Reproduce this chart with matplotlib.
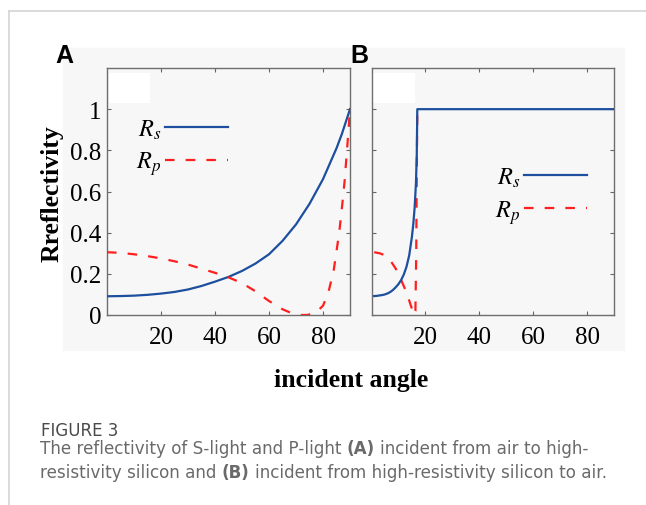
import matplotlib.pyplot as plt
from matplotlib.patches import Rectangle
from matplotlib.lines import Line2D

plt.rcParams['mathtext.fontset'] = 'stix'

# panel A: air -> high-resistivity silicon
angle_a = [0, 5, 10, 15, 20, 25, 30, 35, 40, 45, 50, 55, 60, 65, 70, 75, 80, 83, 85, 87, 88, 89, 90]
rs_a = [0.091, 0.092, 0.094, 0.098, 0.104, 0.112, 0.124, 0.141, 0.162, 0.185, 0.214, 0.25, 0.295,
        0.36, 0.44, 0.54, 0.66, 0.75, 0.81, 0.88, 0.92, 0.96, 1.0]
angle_a_p = [0, 5, 10, 15, 20, 25, 30, 35, 40, 45, 50, 55, 60, 65, 68, 70, 72, 74, 76, 78, 80,
             82, 84, 86, 87, 88, 89, 90]
rp_a = [0.305, 0.302, 0.295, 0.286, 0.275, 0.261, 0.245, 0.225, 0.205, 0.183, 0.155, 0.115, 0.068,
        0.028, 0.011, 0.004, 0.0, 0.0, 0.005, 0.02, 0.045, 0.11, 0.22, 0.40, 0.52, 0.65, 0.82, 1.0]

# panel B: high-resistivity silicon -> air
angle_b = [1, 2, 3, 4, 5, 6, 7, 8, 9, 10, 11, 12, 13, 14, 15, 15.5, 16, 16.5, 16.8, 17,
           30, 50, 70, 90]
rs_b = [0.092, 0.093, 0.095, 0.097, 0.10, 0.105, 0.112, 0.122, 0.135, 0.15, 0.17, 0.197, 0.235,
        0.29, 0.38, 0.44, 0.52, 0.64, 0.78, 1.0, 1.0, 1.0, 1.0, 1.0]
angle_b_p = [1, 3, 5, 7, 9, 11, 13, 14, 15, 15.6, 16.3, 16.6, 16.8, 17]
rp_b = [0.305, 0.30, 0.29, 0.265, 0.225, 0.17, 0.11, 0.07, 0.03, 0.0, 0.02, 0.3, 0.7, 1.0]

xticks = [20, 40, 60, 80]
yticks = [0, 0.2, 0.4, 0.6, 0.8, 1.0]
ytick_labels = ['0', '0.2', '0.4', '0.6', '0.8', '1']

W, H = 646, 506
blue = '#1d4f9e'
red = '#ff1f1f'
bg = '#f7f7f7'
serif = 'Liberation Serif'

fig = plt.figure(figsize=(W / 100, H / 100), dpi=100)

# page decoration
fig.patches.append(Rectangle((63 / W, 1 - 351 / H), (624 - 63) / W, (351 - 49) / H,
                             transform=fig.transFigure, color=bg, zorder=-5))
fig.add_artist(Line2D([9 / W, 1], [1 - 12 / H, 1 - 12 / H], color='#d4d4d4', lw=1.2))
fig.add_artist(Line2D([9 / W, 9 / W], [0, 1 - 12 / H], color='#d4d4d4', lw=1.2))


def setup(ax, left_labels):
    ax.set_facecolor(bg)
    ax.set_xlim(0, 90)
    ax.set_ylim(0, 1.2)
    ax.set_xticks(xticks)
    ax.set_yticks(yticks)
    ax.set_yticklabels(ytick_labels if left_labels else [])
    ax.tick_params(direction='in', length=3, width=0.8, color='#666666', top=True, right=True,
                   labelsize=18, pad=4)
    ax.tick_params(axis='x', pad=8)
    for lab in ax.get_xticklabels() + ax.get_yticklabels():
        lab.set_family(serif)
    for sp in ax.spines.values():
        sp.set_color('#6e6e6e')
        sp.set_linewidth(1.0)
    ax.add_patch(Rectangle((0.008, 0.86), 0.17, 0.118, transform=ax.transAxes,
                           color='white', zorder=1, lw=0))


leg_kw = dict(loc='center right', frameon=False, markerfirst=False, fontsize=17.5,
              handlelength=2.6, handletextpad=0.15, labelspacing=0.33, borderpad=0,
              borderaxespad=0)

axA = fig.add_axes([107 / W, 1 - 316 / H, 243 / W, 247 / H])
setup(axA, True)
la, = axA.plot(angle_a, rs_a, color=blue, lw=1.6, zorder=3)
lb, = axA.plot(angle_a_p, rp_a, color=red, lw=1.6, ls=(0, (4.3, 5)), zorder=4)
axA.legend([la, lb], ['$R_s$', '$R_p$'], bbox_to_anchor=(0.498, 0.68), **leg_kw)

axB = fig.add_axes([371.5 / W, 1 - 316 / H, 242.5 / W, 247 / H])
setup(axB, False)
axB.plot(angle_b_p, rp_b, color=red, lw=1.6, ls=(0, (4.3, 5)), zorder=3)
axB.plot(angle_b, rs_b, color=blue, lw=1.6, zorder=4)
axB.legend([la, lb], ['$R_s$', '$R_p$'], bbox_to_anchor=(0.889, 0.485), **leg_kw)

fig.text(64.5 / W, 1 - 56 / H, 'A', family='Liberation Sans', fontweight='bold', fontsize=18,
         ha='center', va='center')
fig.text(359.5 / W, 1 - 56 / H, 'B', family='Liberation Sans', fontweight='bold', fontsize=18,
         ha='center', va='center')
fig.text(52 / W, 1 - 193.5 / H, 'Rreflectivity', family=serif, fontweight='bold', fontsize=18.5,
         rotation=90, ha='center', va='center')
fig.text(351 / W, 1 - 381 / H, 'incident angle', family=serif, fontweight='bold', fontsize=18.5,
         ha='center', va='center')

# caption, with bold (A)/(B) pieces
renderer = fig.canvas.get_renderer()
cap_font = 'DejaVu Sans'
cap_size = 12.1


def text_width(s, weight):
    t = fig.text(0, 0, s, family=cap_font, fontsize=cap_size, fontweight=weight)
    w = t.get_window_extent(renderer).width
    t.remove()
    return w


def rich_line(x, y, parts, color):
    space = text_width('x x', 'normal') - text_width('xx', 'normal')
    for s, bold in parts:
        weight = 'bold' if bold else 'normal'
        lead = len(s) - len(s.lstrip(' '))
        x += lead * space
        body = s.strip(' ')
        fig.text(x / W, 1 - y / H, body, family=cap_font, fontsize=cap_size, fontweight=weight,
                 color=color, va='baseline')
        x += text_width(body, weight)
        trail = len(s) - len(s.rstrip(' '))
        x += trail * space


fig.text(41 / W, 1 - 436 / H, 'FIGURE 3', family=cap_font, fontsize=12, color='#4a4a4a',
         va='baseline')
rich_line(40, 454.5, [('The reflectivity of S-light and P-light ', False), ('(A)', True),
                      (' incident from air to high-', False)], '#6a6a6a')
rich_line(40, 478.5, [('resistivity silicon and ', False), ('(B)', True),
                      (' incident from high-resistivity silicon to air.', False)], '#6a6a6a')

fig.savefig('out.png', dpi=100)
